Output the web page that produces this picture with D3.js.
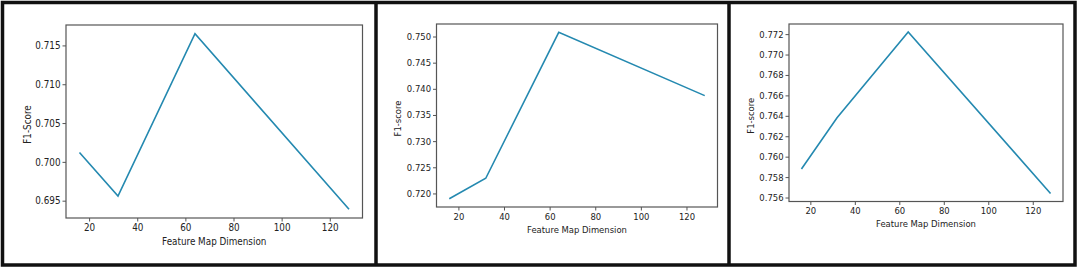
<!DOCTYPE html>
<html>
  <head>
    <meta charset="utf-8">
    <title>F1-score by feature map dimension</title>
    <script src="https://cdn.jsdelivr.net/npm/d3@7"></script>
    <style>
      body { margin: 0; background: #fff; }
      svg { display: block; }
      text { font-family: "DejaVu Sans Condensed", "DejaVu Sans", sans-serif; fill: #222; }
      .frame { fill: none; stroke: #555; stroke-width: 1.2; }
      .axis path { display: none; }
      .axis line { stroke: #555; stroke-width: 1; }
      .line { fill: none; stroke: #2489b0; stroke-width: 1.6; stroke-linejoin: miter; }
      .border { fill: none; stroke: #111; stroke-width: 3.5; }
    </style>
  </head>

  <body>
    <svg id="chart" width="1079" height="270"></svg>

    <script>
      // data
      dims = [16, 32, 64, 128];
      scoresA = [0.7012, 0.6956, 0.7165, 0.6939];
      scoresB = [0.7190, 0.7229, 0.7508, 0.7387];
      scoresC = [0.7588, 0.7638, 0.7722, 0.7564];

      xTicks = [20, 40, 60, 80, 100, 120];
      yTicksA = [0.695, 0.700, 0.705, 0.710, 0.715];
      yTicksB = [0.720, 0.725, 0.730, 0.735, 0.740, 0.745, 0.750];
      yTicksC = [0.756, 0.758, 0.760, 0.762, 0.764, 0.766, 0.768, 0.770, 0.772];

      xTitle = "Feature Map Dimension";
      yTitles = ["F1-Score", "F1-score", "F1-score"];

      chart = d3.select("#chart");

      // panels (plot boxes in pixels)
      panels = [
        { box: [66, 25, 362.5, 218], values: scoresA, ticks: yTicksA, title: yTitles[0], size: 9.8, xGap: 27 },
        { box: [436.5, 24, 717.5, 207], values: scoresB, ticks: yTicksB, title: yTitles[1], size: 9.4, xGap: 26 },
        { box: [789, 24, 1063, 201.5], values: scoresC, ticks: yTicksC, title: yTitles[2], size: 9.4, xGap: 25 }
      ];

      // matplotlib-ish 5% margins
      function padded(extent) {
        let pad = (extent[1] - extent[0]) * 0.05;
        return [extent[0] - pad, extent[1] + pad];
      }

      panels.forEach(drawPanel);

      function drawPanel(p) {
        let left = p.box[0], top = p.box[1], right = p.box[2], bottom = p.box[3];

        let x = d3.scaleLinear()
          .domain(padded(d3.extent(dims)))
          .range([left, right]);
        let y = d3.scaleLinear()
          .domain(padded(d3.extent(p.values)))
          .range([bottom, top]);

        let g = chart.append("g");

        let xAxis = g.append("g")
          .classed("axis", true)
          .attr("transform", "translate(0," + bottom + ")")
          .call(d3.axisBottom(x).tickValues(xTicks).tickSize(3.5).tickPadding(2.5));
        xAxis.selectAll("text").style("font-size", p.size + "px");

        let yAxis = g.append("g")
          .classed("axis", true)
          .attr("transform", "translate(" + left + ",0)")
          .call(d3.axisLeft(y).tickValues(p.ticks).tickFormat(d3.format(".3f")).tickSize(3.5).tickPadding(2));
        yAxis.selectAll("text").style("font-size", p.size + "px");

        g.append("path")
          .classed("line", true)
          .datum(dims.map(function(d, i) { return [d, p.values[i]]; }))
          .attr("d", d3.line()
            .x(function(d) { return x(d[0]); })
            .y(function(d) { return y(d[1]); }));

        g.append("rect")
          .classed("frame", true)
          .attr("x", left)
          .attr("y", top)
          .attr("width", right - left)
          .attr("height", bottom - top);

        g.append("text")
          .attr("x", (left + right) / 2)
          .attr("y", bottom + p.xGap)
          .attr("text-anchor", "middle")
          .style("font-size", p.size + "px")
          .text(xTitle);

        g.append("text")
          .attr("transform", "translate(" + (left - 35.5) + "," + ((top + bottom) / 2 + 3) + ") rotate(-90)")
          .attr("text-anchor", "middle")
          .style("font-size", p.size + "px")
          .text(p.title);
      }

      // outer frame and separators
      chart.append("rect")
        .classed("border", true)
        .attr("x", 2.5)
        .attr("y", 2.5)
        .attr("width", 1072.5)
        .attr("height", 262.5);
      [376, 729].forEach(function(sx) {
        chart.append("line")
          .classed("border", true)
          .attr("x1", sx).attr("x2", sx)
          .attr("y1", 2.5).attr("y2", 265);
      });
    </script>
  </body>
</html>
